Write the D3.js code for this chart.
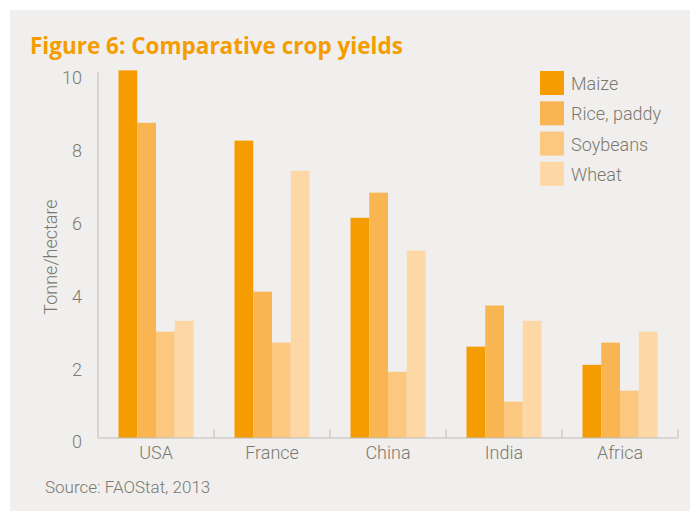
<!DOCTYPE html>
<html>
<head>
<meta charset="utf-8">
<script src="https://cdn.jsdelivr.net/npm/d3@7"></script>
<style>
  body { margin: 0; background: #fff; }
  svg text { font-family: Roboto, "Noto Sans", sans-serif; }
</style>
</head>
<body>
<div id="chart"></div>
<script>
const regions = ["USA", "France", "China", "India", "Africa"];
const crops = ["Maize", "Rice, paddy", "Soybeans", "Wheat"];
const maize = [10.1, 8.17, 6.05, 2.51, 2.01];
const rice = [8.66, 4.02, 6.74, 3.64, 2.62];
const soybeans = [2.92, 2.62, 1.82, 1.0, 1.3];
const wheat = [3.22, 7.34, 5.15, 3.22, 2.92];
const yTicks = [0, 2, 4, 6, 8, 10];
const colours = ["#f59c00", "#f9b552", "#fcc87f", "#fdd8a6"];

const series = [maize, rice, soybeans, wheat];
const data = regions.map((r, i) => ({
  region: r,
  values: crops.map((c, j) => ({ crop: c, value: series[j][i] }))
}));

const width = 690, height = 511;
const margin = { top: 74, right: 12, bottom: 73, left: 98 };
const innerW = width - margin.left - margin.right;
const innerH = height - margin.top - margin.bottom;
const textCol = "#7b796f";

const svg = d3.select("#chart").append("svg")
  .attr("width", width).attr("height", height);

svg.append("rect").attr("x", 10).attr("y", 10)
  .attr("width", width - 10).attr("height", height - 10)
  .attr("fill", "#f0efed");

svg.append("text").attr("x", 30).attr("y", 54)
  .attr("fill", "#f59c00").attr("font-size", 22.5).attr("font-weight", 700)
  .style("font-family", "'Open Sans', sans-serif")
  .text("Figure 6: Comparative crop yields");

const g = svg.append("g").attr("transform", `translate(${margin.left},${margin.top})`);

const x0 = d3.scaleBand().domain(regions).range([0, innerW]).paddingInner(0).paddingOuter(0);
const x1 = d3.scaleBand().domain(crops).range([0, 75]);
const y = d3.scaleLinear().domain([0, 10]).range([innerH, 0]);

// bars
g.selectAll("g.group").data(data).enter().append("g")
  .attr("class", "group")
  .attr("transform", d => `translate(${x0(d.region) + (x0.bandwidth() - 75) / 2},0)`)
  .selectAll("rect").data(d => d.values).enter().append("rect")
  .attr("x", d => x1(d.crop))
  .attr("y", d => y(d.value))
  .attr("width", x1.bandwidth())
  .attr("height", d => innerH - y(d.value))
  .attr("fill", (d, i) => colours[i]);

// y axis
const yAxis = g.append("g").call(d3.axisLeft(y).tickValues(yTicks).tickSize(0).tickPadding(16));
yAxis.select(".domain").attr("stroke", "#bdbcb8").attr("d", `M0,${y(10.05)}V${innerH}`);
yAxis.selectAll("text").attr("fill", textCol).attr("font-size", 18).attr("font-weight", 300)
  .attr("dy", "0.55em");

// x axis
const xAxis = g.append("g").attr("transform", `translate(0,${innerH})`)
  .call(d3.axisBottom(x0).tickSize(0).tickPadding(8));
xAxis.select(".domain").attr("stroke", "#bdbcb8").attr("d", `M0,0H${innerW}`);
xAxis.selectAll("text").attr("fill", textCol).attr("font-size", 18).attr("font-weight", 300);
g.append("g").selectAll("line").data(regions).enter().append("line")
  .attr("x1", d => x0(d) + x0.bandwidth()).attr("x2", d => x0(d) + x0.bandwidth())
  .attr("y1", innerH).attr("y2", innerH - 9)
  .attr("stroke", "#bdbcb8");

// y label
svg.append("text")
  .attr("transform", "translate(57,257) rotate(-90)")
  .attr("text-anchor", "middle")
  .attr("fill", textCol).attr("font-size", 18).attr("font-weight", 300)
  .text("Tonne/hectare");

// legend
const legend = svg.append("g").attr("transform", "translate(540,71)");
const items = legend.selectAll("g").data(crops).enter().append("g")
  .attr("transform", (d, i) => `translate(0,${i * 30.3})`);
items.append("rect").attr("width", 24).attr("height", 24)
  .attr("fill", (d, i) => colours[i]);
items.append("text").attr("x", 31).attr("y", 19)
  .attr("fill", textCol).attr("font-size", 18).attr("font-weight", 300)
  .text(d => d);

// source
svg.append("text").attr("x", 45).attr("y", 493)
  .attr("fill", textCol).attr("font-size", 17).attr("font-weight", 300)
  .text("Source: FAOStat, 2013");
</script>
</body>
</html>
